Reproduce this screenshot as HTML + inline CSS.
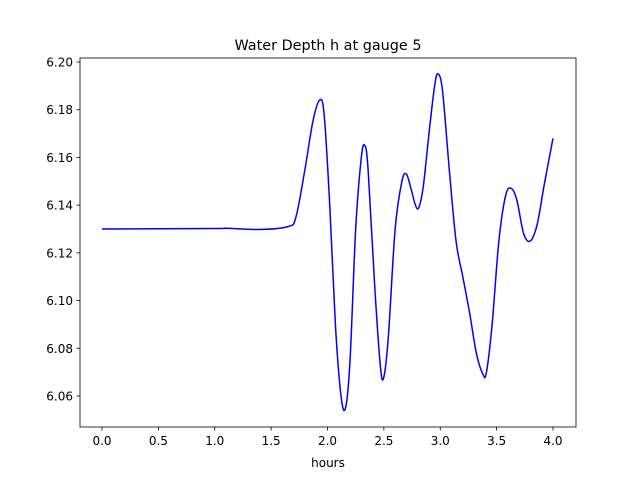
<!DOCTYPE html>
<html><head><meta charset="utf-8"><style>
body{margin:0;background:#fff}
text{font-family:"DejaVu Sans","Liberation Sans",sans-serif;fill:#000}
</style></head><body>
<svg id="c" width="640" height="480" xmlns="http://www.w3.org/2000/svg">
<text x="328" y="50" font-size="14.4" text-anchor="middle">Water Depth h at gauge 5</text>
<text x="328" y="467" font-size="12" text-anchor="middle">hours</text>
<g id="ticks"></g>
<path id="line" fill="none" stroke="#0000ff" stroke-width="1.5"/>
<rect x="80" y="58" width="496" height="369" fill="none" stroke="#000" stroke-width="0.8"/>
</svg>
<script>
const times=[0,1.0,1.1,1.4,1.65,1.72,1.8,1.87,1.93,1.97,2.02,2.07,2.12,2.16,2.2,2.25,2.3,2.33,2.36,2.42,2.47,2.5,2.54,2.6,2.66,2.7,2.74,2.78,2.81,2.85,2.9,2.95,2.98,3.02,3.08,3.14,3.2,3.26,3.32,3.38,3.41,3.46,3.52,3.58,3.63,3.68,3.74,3.8,3.86,3.92,4.0];
const depths=[6.130,6.1302,6.1303,6.1298,6.131,6.135,6.155,6.175,6.184,6.178,6.14,6.09,6.06,6.055,6.075,6.13,6.16,6.165,6.155,6.105,6.072,6.068,6.085,6.13,6.150,6.153,6.147,6.140,6.139,6.148,6.170,6.190,6.195,6.188,6.155,6.125,6.110,6.095,6.078,6.069,6.070,6.09,6.125,6.144,6.147,6.142,6.128,6.125,6.132,6.148,6.168];
const xTicks=[0,0.5,1.0,1.5,2.0,2.5,3.0,3.5,4.0];
const yTicks=[6.06,6.08,6.10,6.12,6.14,6.16,6.18,6.20];
const X=v=>102+(v)*112.75;
const Y=v=>396-(v-6.06)/0.02*47.714;
const ns="http://www.w3.org/2000/svg";
const g=document.getElementById('ticks');
function mk(t,a){const e=document.createElementNS(ns,t);for(const k in a)e.setAttribute(k,a[k]);g.appendChild(e);return e;}
xTicks.forEach(v=>{
 const l=mk('line',{x1:X(v),x2:X(v),y1:427,y2:430.5,stroke:'#000','stroke-width':0.8});
 
 
 const t=mk('text',{x:X(v),y:445,'font-size':12,'text-anchor':'middle'});
 t.textContent=v.toFixed(1);
 
 
});
yTicks.forEach(v=>{
 const l=mk('line',{x1:76.5,x2:80,y1:Y(v),y2:Y(v),stroke:'#000','stroke-width':0.8});
 
 
 const t=mk('text',{x:73,y:Y(v)+4.5,'font-size':12,'text-anchor':'end'});
 t.textContent=v.toFixed(2);
 
 
});
const P=times.map((t,i)=>[X(t),Y(depths[i])]);
let d='M'+P[0][0]+','+P[0][1];
for(let i=0;i<P.length-1;i++){
 const p0=P[Math.max(0,i-1)],p1=P[i],p2=P[i+1],p3=P[Math.min(P.length-1,i+2)];
 const c1=[p1[0]+(p2[0]-p0[0])/6,p1[1]+(p2[1]-p0[1])/6];
 const c2=[p2[0]-(p3[0]-p1[0])/6,p2[1]-(p3[1]-p1[1])/6];
 d+=' C'+c1+' '+c2+' '+p2;
}
document.getElementById('line').setAttribute('d',d);
</script>
</body></html>
